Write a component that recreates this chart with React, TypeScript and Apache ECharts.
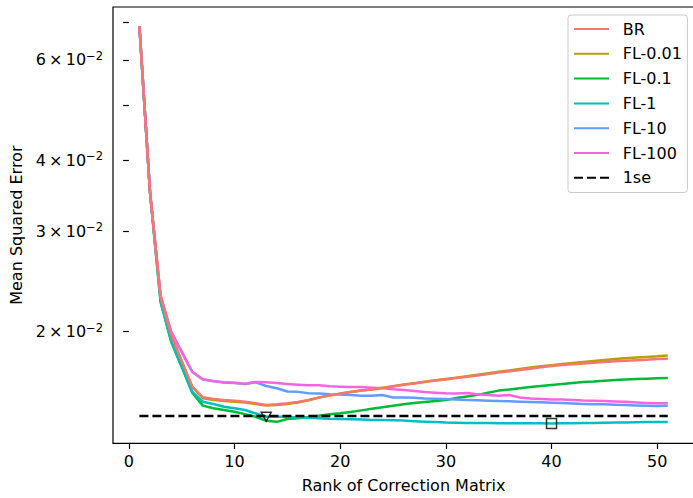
import React, { useEffect, useRef } from "react";
import * as echarts from "echarts";

const ranks = [
  1, 2, 3, 4, 5, 6, 7, 8, 9, 10, 11, 12, 13, 14, 15, 16, 17, 18, 19, 20,
  21, 22, 23, 24, 25, 26, 27, 28, 29, 30, 31, 32, 33, 34, 35, 36, 37, 38, 39, 40,
  41, 42, 43, 44, 45, 46, 47, 48, 49, 50, 51,
];

const BR = [
  0.0687, 0.0352, 0.0230, 0.01974, 0.01777, 0.01601, 0.01534, 0.01523, 0.01517, 0.01513,
  0.01507, 0.01497, 0.01487, 0.01491, 0.01497, 0.01505, 0.01517, 0.01533, 0.01546, 0.01557,
  0.01567, 0.01577, 0.01583, 0.01592, 0.01603, 0.01614, 0.01622, 0.01632, 0.01641, 0.01648,
  0.01658, 0.01667, 0.01676, 0.01685, 0.01696, 0.01705, 0.01713, 0.01722, 0.01732, 0.01741,
  0.01748, 0.01754, 0.01759, 0.01764, 0.01770, 0.01774, 0.01779, 0.01782, 0.01786, 0.01790,
  0.01792,
];

const FL_001 = [
  0.0687, 0.0352, 0.0230, 0.01972, 0.01775, 0.01598, 0.01528, 0.01517, 0.01511, 0.01507,
  0.01502, 0.01493, 0.01484, 0.01487, 0.01493, 0.01502, 0.01516, 0.01532, 0.01545, 0.01557,
  0.01567, 0.01577, 0.01584, 0.01594, 0.01604, 0.01615, 0.01624, 0.01634, 0.01643, 0.01652,
  0.01661, 0.01670, 0.01680, 0.01690, 0.01701, 0.01710, 0.01720, 0.01730, 0.01739, 0.01747,
  0.01755, 0.01763, 0.01770, 0.01777, 0.01784, 0.01790, 0.01796, 0.01801, 0.01806, 0.01810,
  0.01816,
];

const FL_01 = [
  0.0687, 0.0352, 0.02258, 0.01921, 0.01734, 0.01563, 0.01483, 0.01467, 0.01457, 0.01447,
  0.01433, 0.01418, 0.01395, 0.01389, 0.01405, 0.01410, 0.01417, 0.01424, 0.01432, 0.01438,
  0.01446, 0.01455, 0.01464, 0.01473, 0.01482, 0.01491, 0.01499, 0.01505, 0.01511, 0.01517,
  0.01529, 0.01539, 0.01549, 0.01562, 0.01576, 0.01583, 0.01591, 0.01599, 0.01606, 0.01612,
  0.01619, 0.01625, 0.01632, 0.01635, 0.01640, 0.01645, 0.01648, 0.01652, 0.01654, 0.01657,
  0.01659,
];

const FL_1 = [
  0.0687, 0.0352, 0.02258, 0.0193, 0.01740, 0.01569, 0.01507, 0.01493, 0.01476, 0.01467,
  0.01457, 0.01437, 0.01418, 0.01418, 0.01418, 0.01414, 0.01412, 0.01410, 0.01406, 0.01405,
  0.01403, 0.01402, 0.01400, 0.01399, 0.01398, 0.01396, 0.01393, 0.01390, 0.01388, 0.01385,
  0.01384, 0.01382, 0.01382, 0.01382, 0.01381, 0.01381, 0.01381, 0.01381, 0.01381, 0.01380,
  0.01381, 0.01381, 0.01382, 0.01382, 0.01384, 0.01385, 0.01386, 0.01387, 0.01388, 0.01388,
  0.01388,
];

const FL_10 = [
  0.0687, 0.0352, 0.0231, 0.01998, 0.01843, 0.01699, 0.01648, 0.01636, 0.01628, 0.01625,
  0.01619, 0.01630, 0.01606, 0.01591, 0.01570, 0.01568, 0.01559, 0.01557, 0.01553, 0.01551,
  0.01548, 0.01544, 0.01544, 0.01548, 0.01533, 0.01533, 0.01531, 0.01527, 0.01525, 0.01523,
  0.01520, 0.01517, 0.01515, 0.01513, 0.01511, 0.01509, 0.01507, 0.01505, 0.01503, 0.01501,
  0.01499, 0.01496, 0.01493, 0.01491, 0.01491, 0.01489, 0.01487, 0.01484, 0.01482, 0.01481,
  0.01482,
];

const FL_100 = [
  0.0687, 0.0352, 0.0232, 0.0200, 0.01845, 0.01701, 0.01650, 0.01638, 0.01630, 0.01627,
  0.01621, 0.01632, 0.01630, 0.01625, 0.01619, 0.01614, 0.01610, 0.01610, 0.01604, 0.01601,
  0.01599, 0.01599, 0.01595, 0.01591, 0.01584, 0.01580, 0.01573, 0.01567, 0.01563, 0.01559,
  0.01557, 0.01561, 0.01553, 0.01548, 0.01544, 0.01548, 0.01533, 0.01527, 0.01524, 0.01521,
  0.01520, 0.01517, 0.01514, 0.01513, 0.01511, 0.01508, 0.01506, 0.01502, 0.01499, 0.01497,
  0.01497,
];

const oneSE = 0.01422;
const oneSERange = [1, 51];
const triangleRank = 13;
const squareRank = 40;

const xTicks = [0, 10, 20, 30, 40, 50];
const yTicks = [0.02, 0.03, 0.04, 0.05, 0.06, 0.07];
const yLabelTicks = [0.02, 0.03, 0.04, 0.06];

const seriesNames = ["BR", "FL-0.01", "FL-0.1", "FL-1", "FL-10", "FL-100"];
const seriesColors = ["#F8766D", "#B79F00", "#00BA38", "#00BFC4", "#619CFF", "#F564E3"];
const seriesValues = [BR, FL_001, FL_01, FL_1, FL_10, FL_100];

const FONT = "DejaVu Sans";
const lg = (v: number) => Math.log10(v);

export default function App() {
  const ref = useRef<HTMLDivElement>(null);
  useEffect(() => {
    if (!ref.current) return;
    const chart = echarts.init(ref.current, undefined, { renderer: "svg" });

    const lineSeries = seriesNames.map((name, si) => ({
      name,
      type: "line",
      symbol: "none",
      data: ranks.map((r, i) => [r, lg(seriesValues[si][i])]),
      lineStyle: { color: seriesColors[si], width: 2.5, join: "round" },
      itemStyle: { color: seriesColors[si] },
      emphasis: { disabled: true },
      silent: true,
      z: si === 0 ? 8 : 2 + si * 0.1,
    }));
    // draw BR last (on top)
    const ordered = [...lineSeries.slice(1), lineSeries[0]];

    const option: any = {
      animation: false,
      grid: {
        left: 113,
        top: 7,
        width: 581.2,
        height: 436.3,
        show: true,
        borderColor: "#000",
        borderWidth: 1.2,
        backgroundColor: "rgba(0,0,0,0)",
        outerBoundsMode: "none",
        containLabel: false,
      },
      xAxis: {
        type: "value",
        min: -1.5,
        max: 53.5,
        axisLine: { show: false },
        splitLine: { show: false },
        axisTick: {
          show: true,
          customValues: xTicks,
          length: 5.7,
          lineStyle: { color: "#000", width: 1.2 },
        },
        axisLabel: {
          customValues: xTicks,
          margin: 10,
          color: "#000",
          fontFamily: FONT,
          fontSize: 16,
        },
        name: "Rank of Correction Matrix",
        nameLocation: "middle",
        nameGap: 34,
        nameTextStyle: { color: "#000", fontFamily: FONT, fontSize: 16 },
      },
      yAxis: {
        type: "value",
        min: lg(0.012736),
        max: lg(0.07433),
        axisLine: { show: false },
        splitLine: { show: false },
        axisTick: {
          show: true,
          customValues: yTicks.map(lg),
          length: 5.7,
          lineStyle: { color: "#000", width: 1.2 },
        },
        axisLabel: {
          customValues: yLabelTicks.map(lg),
          margin: 10,
          color: "#000",
          fontFamily: FONT,
          fontSize: 16,
          formatter: (v: number) => {
            const m = Math.round(Math.pow(10, v) * 100);
            return `{b|${m}\u2009×\u200910}{s|−2}`;
          },
          rich: {
            b: { fontFamily: FONT, fontSize: 16, color: "#000", lineHeight: 20 },
            s: { fontFamily: FONT, fontSize: 11.5, color: "#000", lineHeight: 11, verticalAlign: "top" },
          },
        },
        name: "Mean Squared Error",
        nameLocation: "middle",
        nameGap: 78,
        nameTextStyle: { color: "#000", fontFamily: FONT, fontSize: 16 },
      },
      legend: {
        data: [...seriesNames, "1se"],
        orient: "vertical",
        left: 568,
        top: 15,
        itemWidth: 35,
        itemHeight: 16,
        itemGap: 8.8,
        padding: [6, 5.5, 6.7, 5],
        borderColor: "#cccccc",
        borderWidth: 1,
        borderRadius: 3,
        backgroundColor: "rgba(255,255,255,0.8)",
        selectedMode: false,
        itemStyle: { opacity: 0 },
        textStyle: {
          color: "#000",
          fontFamily: FONT,
          fontSize: 16,
          lineHeight: 16,
          padding: [0, 0, 0, 8.7],
        },
      },
      series: [
        ...ordered,
        {
          name: "1se",
          type: "line",
          symbol: "none",
          data: oneSERange.map((r) => [r, lg(oneSE)]),
          lineStyle: { color: "#000", width: 2.4, type: [9, 4] },
          itemStyle: { color: "#000" },
          emphasis: { disabled: true },
          silent: true,
          z: 9,
        },
        {
          name: "min1se",
          type: "scatter",
          data: [[triangleRank, lg(FL_1[triangleRank - 1])]],
          symbol: "triangle",
          symbolRotate: 180,
          symbolSize: [10, 9],
          itemStyle: { color: "rgba(0,0,0,0)", borderColor: "#000", borderWidth: 1.5 },
          emphasis: { disabled: true },
          silent: true,
          z: 10,
        },
        {
          name: "min",
          type: "scatter",
          data: [[squareRank, lg(FL_1[squareRank - 1])]],
          symbol: "rect",
          symbolSize: 10,
          itemStyle: { color: "rgba(0,0,0,0)", borderColor: "#000", borderWidth: 1.5 },
          emphasis: { disabled: true },
          silent: true,
          z: 10,
        },
      ],
    };
    chart.setOption(option);
    return () => chart.dispose();
  }, []);
  return (
    <div
      ref={ref}
      style={{ position: "absolute", left: 0, top: 0, width: 693, height: 498, background: "#fff" }}
    />
  );
}
